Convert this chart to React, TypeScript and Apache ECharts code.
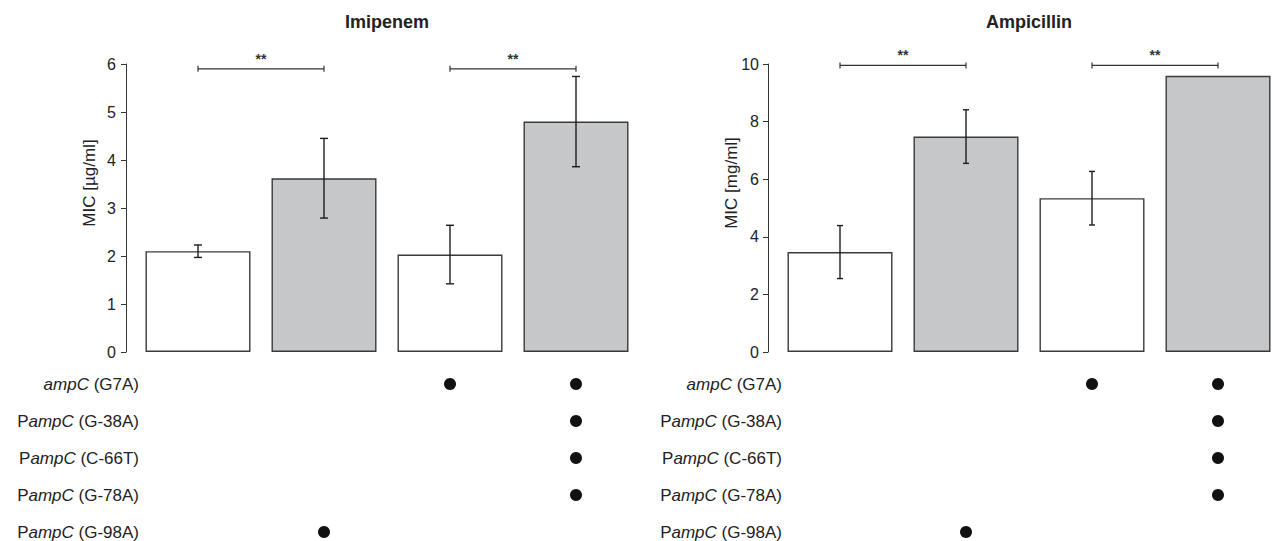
import React, { useEffect, useRef } from "react";
import * as echarts from "echarts";

const strains = ["Strain 1", "Strain 2", "Strain 3", "Strain 4"];
const barFills = ["#ffffff", "#c6c7c9", "#ffffff", "#c6c7c9"];

const imipenemMean = [2.1, 3.62, 2.03, 4.8];
const imipenemErr = [0.13, 0.83, 0.61, 0.94];
const ampicillinMean = [3.47, 7.48, 5.34, 9.59];
const ampicillinErr: (number | null)[] = [0.92, 0.93, 0.93, null];

const imipenemTicks = { min: 0, max: 6, interval: 1 };
const ampicillinTicks = { min: 0, max: 10, interval: 2 };

// [from strain index, to strain index, height in axis units]
const imipenemBrackets = [
  [0, 1, 5.9],
  [2, 3, 5.9],
];
const ampicillinBrackets = [
  [0, 1, 9.95],
  [2, 3, 9.95],
];
const bracketLabel = "**";

const mutationRows = [
  "ampC (G7A)",
  "PampC (G-38A)",
  "PampC (C-66T)",
  "PampC (G-78A)",
  "PampC (G-98A)",
];
// rows x strains
const mutationMatrix = [
  [0, 0, 1, 1],
  [0, 0, 0, 1],
  [0, 0, 0, 1],
  [0, 0, 0, 1],
  [0, 1, 0, 0],
];

const titles = ["Imipenem", "Ampicillin"];
const yNames = ["MIC [µg/ml]", "MIC [mg/ml]"];

const FONT = "Liberation Sans, Arial, sans-serif";
const TEXT = "#222222";

export default function App() {
  const ref = useRef<HTMLDivElement>(null);
  useEffect(() => {
    if (!ref.current) return;
    const chart = echarts.init(ref.current, null, { renderer: "svg" });

    const BAND = 126;
    const panels = [
      { left: 135, width: 504, mean: imipenemMean, err: imipenemErr, ticks: imipenemTicks, brackets: imipenemBrackets, cap: 4, labelMargin: 10 },
      { left: 777, width: 496, mean: ampicillinMean, err: ampicillinErr, ticks: ampicillinTicks, brackets: ampicillinBrackets, cap: 3, labelMargin: 9 },
    ];

    const grids: any[] = [];
    const xAxes: any[] = [];
    const yAxes: any[] = [];
    const series: any[] = [];

    panels.forEach((p, k) => {
      const xMax = -0.5 + p.width / BAND;
      const xAxisBase = { type: "value", min: -0.5, max: xMax, show: false, splitLine: { show: false } };
      // bar grid
      grids.push({ left: p.left, top: 64, width: p.width, height: 288 });
      xAxes.push({ ...xAxisBase, gridIndex: 2 * k });
      yAxes.push({
        type: "value",
        gridIndex: 2 * k,
        min: p.ticks.min,
        max: p.ticks.max,
        interval: p.ticks.interval,
        offset: 9,
        splitLine: { show: false },
        axisLine: { show: true, onZero: false, lineStyle: { color: "#333", width: 1 } },
        axisTick: { show: true, length: 5, lineStyle: { color: "#333", width: 1 } },
        axisLabel: { fontSize: 16, color: TEXT, fontFamily: FONT, margin: p.labelMargin },
      });
      // dot grid: row centres from y=384 to y=532
      grids.push({ left: p.left, top: 384, width: p.width, height: 148 });
      xAxes.push({ ...xAxisBase, gridIndex: 2 * k + 1 });
      yAxes.push({
        type: "value",
        gridIndex: 2 * k + 1,
        min: 0,
        max: mutationRows.length - 1,
        interval: 1,
        inverse: true,
        offset: k === 0 ? -4 : -5,
        axisLine: { show: false, onZero: false },
        axisTick: { show: false },
        splitLine: { show: false },
        axisLabel: {
          margin: 0,
          fontSize: 17,
          color: TEXT,
          fontFamily: FONT,
          formatter: (v: number) => (mutationRows[Math.round(v)] || "").replace("ampC", "{i|ampC}"),
          rich: {
            i: { fontStyle: "italic", fontSize: 17, color: TEXT, fontFamily: FONT },
          },
        },
      });

      series.push({
        type: "bar",
        xAxisIndex: 2 * k,
        yAxisIndex: 2 * k,
        barWidth: 105,
        z: 2,
        data: p.mean.map((v, i) => ({
          value: [i, v],
          itemStyle: { color: barFills[i], borderColor: "#3a3a3a", borderWidth: 1.4 },
        })),
      });

      series.push({
        type: "custom",
        xAxisIndex: 2 * k,
        yAxisIndex: 2 * k,
        clip: false,
        z: 5,
        data: p.mean
          .map((m, i) => (p.err[i] == null ? null : [i, m - (p.err[i] as number), m + (p.err[i] as number)]))
          .filter((d) => d !== null),
        encode: { x: 0, y: [1, 2] },
        renderItem: (params: any, api: any) => {
          const x = api.value(0);
          const hi = api.coord([x, api.value(2)]);
          const lo = api.coord([x, api.value(1)]);
          const st = { stroke: "#1e1e1e", lineWidth: 1.4 };
          return {
            type: "group",
            children: [
              { type: "line", shape: { x1: hi[0], y1: hi[1], x2: lo[0], y2: lo[1] }, style: st },
              { type: "line", shape: { x1: hi[0] - p.cap, y1: hi[1], x2: hi[0] + p.cap, y2: hi[1] }, style: st },
              { type: "line", shape: { x1: lo[0] - p.cap, y1: lo[1], x2: lo[0] + p.cap, y2: lo[1] }, style: st },
            ],
          };
        },
      });

      series.push({
        type: "custom",
        xAxisIndex: 2 * k,
        yAxisIndex: 2 * k,
        clip: false,
        z: 5,
        data: p.brackets,
        encode: { x: [0, 1], y: 2 },
        renderItem: (params: any, api: any) => {
          const a = api.coord([api.value(0), api.value(2)]);
          const b = api.coord([api.value(1), api.value(2)]);
          const st = { stroke: "#333", lineWidth: 1.2 };
          return {
            type: "group",
            children: [
              { type: "line", shape: { x1: a[0], y1: a[1], x2: b[0], y2: a[1] }, style: st },
              { type: "line", shape: { x1: a[0], y1: a[1] - 3, x2: a[0], y2: a[1] + 3 }, style: st },
              { type: "line", shape: { x1: b[0], y1: b[1] - 3, x2: b[0], y2: b[1] + 3 }, style: st },
              {
                type: "text",
                style: {
                  text: bracketLabel,
                  x: (a[0] + b[0]) / 2,
                  y: a[1] - 10,
                  align: "center",
                  verticalAlign: "middle",
                  fontSize: 14,
                  fontWeight: "bold",
                  fontFamily: FONT,
                  fill: "#333",
                },
              },
            ],
          };
        },
      });

      const dots: number[][] = [];
      mutationMatrix.forEach((row, r) =>
        row.forEach((on, c) => {
          if (on) dots.push([c, r]);
        })
      );
      series.push({
        type: "scatter",
        xAxisIndex: 2 * k + 1,
        yAxisIndex: 2 * k + 1,
        symbol: "circle",
        symbolSize: 12,
        clip: false,
        itemStyle: { color: "#111111", opacity: 1 },
        data: dots,
      });
    });

    const graphic: any[] = [
      { type: "text", x: 387, y: 22, style: { text: titles[0], align: "center", verticalAlign: "middle", fontSize: 18, fontWeight: "bold", fontFamily: FONT, fill: TEXT } },
      { type: "text", x: 1029, y: 22, style: { text: titles[1], align: "center", verticalAlign: "middle", fontSize: 18, fontWeight: "bold", fontFamily: FONT, fill: TEXT } },
      { type: "text", x: 89, y: 183, rotation: Math.PI / 2, style: { text: yNames[0], align: "center", verticalAlign: "middle", fontSize: 17, fontFamily: FONT, fill: TEXT } },
      { type: "text", x: 731, y: 183, rotation: Math.PI / 2, style: { text: yNames[1], align: "center", verticalAlign: "middle", fontSize: 17, fontFamily: FONT, fill: TEXT } },
    ];

    chart.setOption({
      animation: false,
      backgroundColor: "#ffffff",
      textStyle: { fontFamily: FONT },
      grid: grids,
      xAxis: xAxes,
      yAxis: yAxes,
      series,
      graphic,
    });
    return () => chart.dispose();
  }, []);

  return (
    <div
      ref={ref}
      style={{ position: "absolute", left: 0, top: 0, width: 1274, height: 541 }}
    />
  );
}
